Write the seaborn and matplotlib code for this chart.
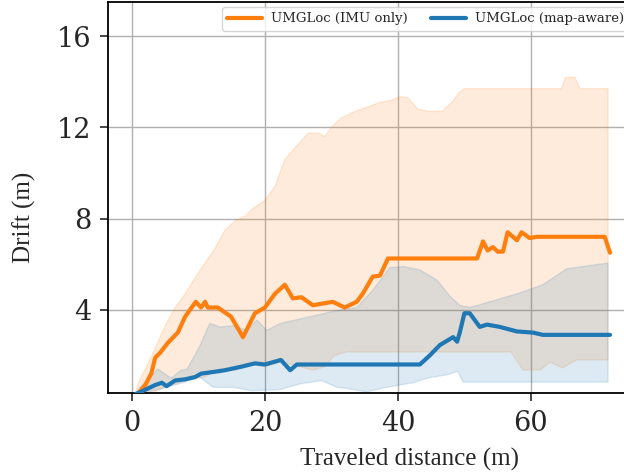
import numpy as np
import pandas as pd
import matplotlib
matplotlib.use("Agg")
import matplotlib.pyplot as plt
import seaborn as sns

# ---- data ----
imu_x = [1, 2, 2.9, 3.5, 4.2, 5.4, 6.9, 8.0, 9.6, 10.4, 11, 11.4, 12.9, 14.9, 16.7, 18.5, 20, 21.5, 23,
         24.2, 25.5, 27.2, 30.2, 32, 33.8, 34.7, 36.2, 37.3, 38.5, 51.9, 52.8, 53.5, 54.3, 55, 55.8,
         56.5, 57.9, 58.6, 59.8, 60.9, 71.1, 71.9]
imu_y = [0.35, 0.7, 1.2, 1.9, 2.1, 2.55, 3.0, 3.7, 4.35, 4.1, 4.35, 4.1, 4.1, 3.7, 2.8, 3.85, 4.1, 4.7, 5.1,
         4.5, 4.55, 4.2, 4.35, 4.1, 4.35, 4.7, 5.45, 5.5, 6.25, 6.25, 7.0, 6.6, 6.75, 6.55, 6.55,
         7.4, 7.05, 7.4, 7.15, 7.2, 7.2, 6.5]

imu_hi_x = [0.5, 1, 3, 5, 6.5, 8, 9.5, 11, 12.5, 14, 15.5, 17, 18, 20, 21.5, 23, 24.5, 26.5, 28, 29,
            30, 31.4, 33.5, 35.5, 37.3, 39.2, 40.3, 41.5, 43, 44.8, 46.6, 48.1, 49.3, 50, 64.6, 65.2,
            66.6, 67.4, 71.6]
imu_hi_y = [0.3, 0.8, 2.0, 3.3, 4.1, 4.7, 5.4, 6.05, 6.7, 7.5, 7.9, 8.1, 8.4, 8.8, 9.4, 10.6, 11.1,
            11.75, 11.75, 11.6, 12.0, 12.4, 12.7, 12.9, 13.1, 13.2, 13.35, 13.3, 12.8, 12.7, 12.7,
            13.1, 13.55, 13.7, 13.7, 14.2, 14.2, 13.7, 13.7]
imu_lo_x = [0.5, 3, 5, 8, 11, 13, 15.5, 17.4, 20, 22.3, 24, 27.2, 29, 30.5, 32.3, 57, 58.8, 61.4, 62.9,
            64.8, 66.9, 71.6]
imu_lo_y = [0.3, 0.35, 0.6, 0.9, 1.05, 1.4, 1.35, 1.65, 1.5, 1.7, 1.6, 1.35, 1.5, 2.0, 2.15, 2.15,
            1.36, 1.36, 1.7, 1.45, 1.8, 1.8]

map_x = [0.5, 1.35, 3.5, 4.5, 5.2, 6.5, 8, 9.5, 10.4, 12.9, 14, 16.4, 18.5, 20, 22.4, 23.8, 24.8, 43.3,
         44.8, 46.3, 48.3, 48.9, 49.3, 50, 50.8, 52.3, 53.4, 55.3, 57.9, 60.3, 61.8, 71.9]
map_y = [0.3, 0.4, 0.7, 0.8, 0.65, 0.9, 0.95, 1.05, 1.2, 1.3, 1.35, 1.5, 1.65, 1.6, 1.8, 1.35, 1.6, 1.6,
         2.0, 2.45, 2.8, 2.6, 3.0, 3.85, 3.85, 3.25, 3.35, 3.25, 3.05, 3.0, 2.9, 2.9]

map_hi_x = [0.5, 1.2, 3.9, 5.9, 7.4, 8.3, 10.2, 11.7, 13.2, 15.2, 17.3, 18.8, 20.3, 22.3, 25.3, 28.3,
            31.3, 33.8, 36.2, 38.8, 40.8, 43.3, 45.9, 47.8, 49.3, 50.8, 53.8, 57.9, 61.8, 65.4, 67.8,
            71.6]
map_hi_y = [0.3, 0.6, 1.4, 1.0, 1.35, 1.4, 2.4, 3.4, 3.25, 3.3, 3.1, 3.55, 3.1, 3.4, 3.6, 3.8, 4.0,
            4.1, 4.85, 5.85, 5.9, 5.75, 5.3, 4.6, 4.2, 4.1, 4.35, 4.7, 5.1, 5.8, 5.9, 6.05]
map_lo_x = [0.5, 4, 7.7, 10.2, 12.2, 15.2, 18, 22.3, 25.3, 28.5, 30.8, 32.3, 35.3, 38.3, 42.3, 44.4,
            47.4, 49, 49.8, 71.6]
map_lo_y = [0.3, 0.5, 0.8, 1.05, 0.6, 0.6, 0.45, 0.5, 0.75, 0.9, 0.6, 0.55, 0.4, 0.6, 0.8, 1.0,
            1.15, 1.3, 0.83, 0.83]

labels = ["UMGLoc (IMU only)", "UMGLoc (map-aware)"]
x_ticks = [0, 20, 40, 60]
y_ticks = [4, 8, 12, 16]

ORANGE = "#ff7f0e"
BLUE = "#1f77b4"

sns.set_style("white")
plt.rcParams["font.family"] = ["DejaVu Serif"]

fig = plt.figure(figsize=(6.24, 4.72), dpi=100)
ax = fig.add_axes([108 / 624, 79 / 472, 519 / 624, 391 / 472])

# bands
for hx, hy, lx, ly, c in [(imu_hi_x, imu_hi_y, imu_lo_x, imu_lo_y, ORANGE),
                          (map_hi_x, map_hi_y, map_lo_x, map_lo_y, BLUE)]:
    px = np.concatenate([hx, lx[::-1]])
    py = np.concatenate([hy, ly[::-1]])
    ax.fill(px, py, facecolor=c, alpha=0.15, edgecolor=c, linewidth=1.0, zorder=2)

df_imu = pd.DataFrame({"x": imu_x, "y": imu_y})
df_map = pd.DataFrame({"x": map_x, "y": map_y})
sns.lineplot(data=df_imu, x="x", y="y", ax=ax, color=ORANGE, linewidth=3, sort=False,
             label=labels[0], zorder=4)
sns.lineplot(data=df_map, x="x", y="y", ax=ax, color=BLUE, linewidth=3, sort=False,
             label=labels[1], zorder=4)

ax.set_xlim(-3.6, 74.45)
ax.set_ylim(0.35, 17.5)
ax.set_xticks(x_ticks)
ax.set_yticks(y_ticks)
ax.grid(True, color="#b0b0b0", linewidth=1.0, zorder=0)
ax.set_axisbelow(True)
for s in ["left", "bottom", "top"]:
    ax.spines[s].set_color("black")
    ax.spines[s].set_linewidth(1.3)
ax.spines["right"].set_visible(False)
ax.tick_params(axis="both", direction="out", length=6, width=1.2, labelsize=19.5,
               bottom=True, left=True, pad=6)
for lab in ax.get_xticklabels() + ax.get_yticklabels():
    lab.set_family("DejaVu Serif")

ax.set_xlabel("Traveled distance (m)", family="Liberation Serif", fontsize=18)
ax.set_ylabel("Drift (m)", family="Liberation Serif", fontsize=18)
ax.xaxis.set_label_coords((410 - 108) / 519, -(448 - 393) / 391)
ax.yaxis.set_label_coords((36 - 108) / 519, (393 - 217) / 391)

leg = ax.legend(loc="upper left", bbox_to_anchor=(222 / 624, 1 - 7 / 472),
                bbox_transform=fig.transFigure, ncol=2, fontsize=9.5, frameon=True,
                handlelength=2.6, columnspacing=1.8, borderpad=0.4, handletextpad=0.7,
                borderaxespad=0)
leg.get_frame().set_edgecolor("#cccccc")
for t in leg.get_texts():
    t.set_family("DejaVu Serif")

fig.savefig("out.png", dpi=100)
